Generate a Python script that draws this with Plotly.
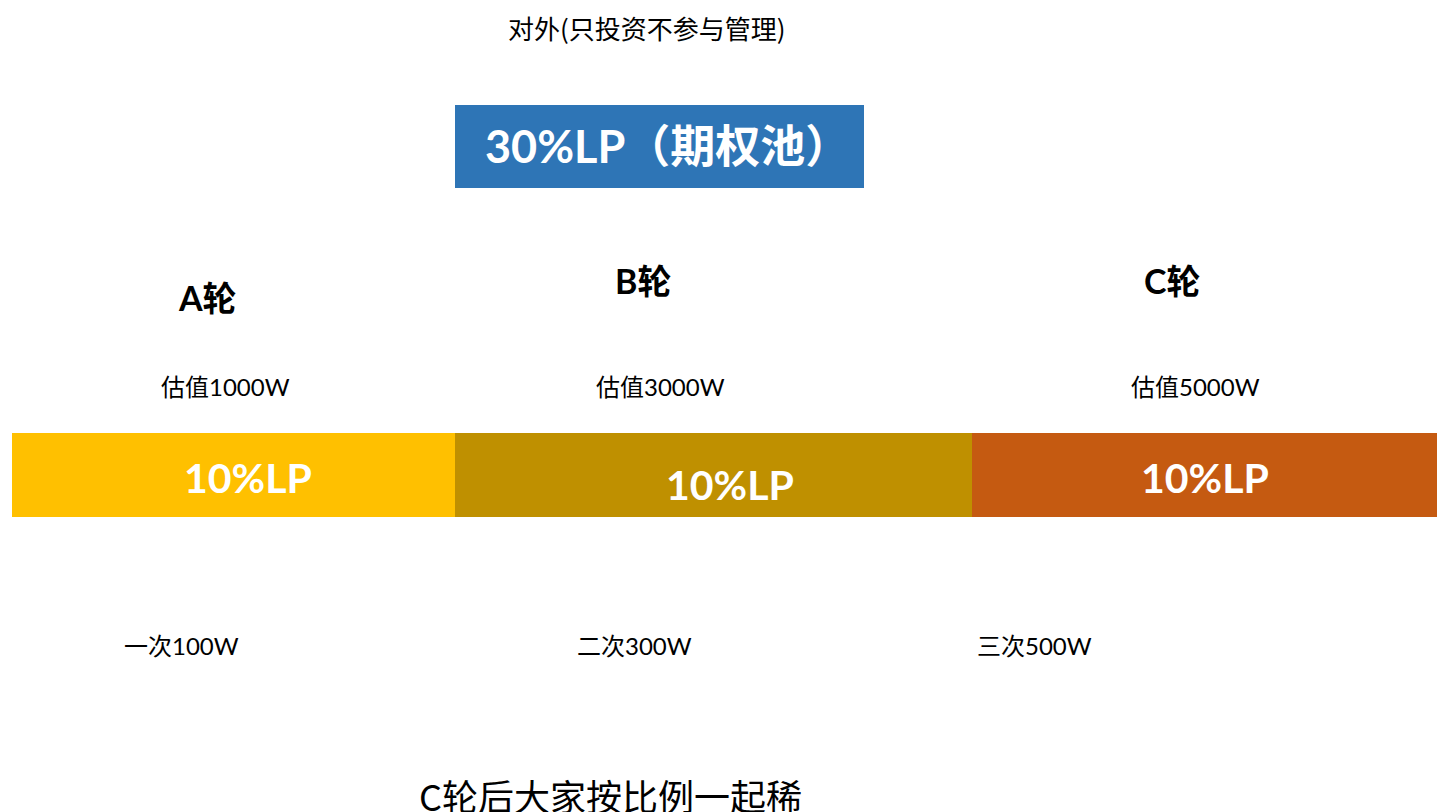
import plotly.graph_objects as go

# ---- data ----
header_text = "对外(只投资不参与管理)"
pool_label = "30%LP（期权池）"
rounds = ["A轮", "B轮", "C轮"]
valuations = ["估值1000W", "估值3000W", "估值5000W"]
lp_labels = ["10%LP", "10%LP", "10%LP"]
investments = ["一次100W", "二次300W", "三次500W"]
footer_text = "C轮后大家按比例一起稀"

# ---- layout / style (pixel coordinates on a 1445x812 canvas) ----
W, H = 1445, 812
OFF = 8  # page body margin compensation
seg_x = [(12, 455), (455, 972), (972, 1445)]
seg_colors = ["#FFC000", "#BF9000", "#C55A11"]
bar_y = (433, 517)
pool_box = (455, 864, 105, 188)
pool_color = "#2E75B6"
round_pos = [(207, 297), (643, 280), (1172, 280)]
val_pos = [(225, 386), (660, 386), (1195, 386)]
lp_pos = [(248, 477), (730, 484), (1205, 477)]
inv_pos = [(181, 645), (634, 645), (1034, 645)]

FONT = "Lato, Noto Sans CJK SC, sans-serif"
CJK = "Noto Sans CJK SC, Lato, sans-serif"

fig = go.Figure()
fig.add_trace(go.Scatter(x=[OFF, W], y=[OFF, H], mode="markers",
                         marker=dict(opacity=0), hoverinfo="skip", showlegend=False))

shapes = []
shapes.append(dict(type="rect", xref="x", yref="y",
                   x0=pool_box[0], x1=pool_box[1], y0=pool_box[2], y1=pool_box[3],
                   fillcolor=pool_color, line=dict(width=0), layer="below"))
for (x0, x1), c in zip(seg_x, seg_colors):
    shapes.append(dict(type="rect", xref="x", yref="y", x0=x0, x1=x1,
                       y0=bar_y[0], y1=bar_y[1], fillcolor=c, line=dict(width=0), layer="below"))

ann = []
def add(text, x, y, size, color="black", bold=False, family=FONT):
    t = f"<b>{text}</b>" if bold else text
    ann.append(dict(text=t, x=x, y=y, xref="x", yref="y", showarrow=False,
                    xanchor="center", yanchor="middle",
                    font=dict(size=size, color=color, family=family)))

add(header_text, 647, 27, 26, family=CJK)
add(pool_label, 667, 146, 45, color="white", bold=True)
for t, (x, y) in zip(rounds, round_pos):
    add(t, x, y, 34, bold=True)
for t, (x, y) in zip(valuations, val_pos):
    add(t, x, y, 24)
for t, (x, y) in zip(lp_labels, lp_pos):
    add(t, x, y, 41, color="white", bold=True)
for t, (x, y) in zip(investments, inv_pos):
    add(t, x, y, 24)
add(footer_text, 610, 795, 36, family=CJK)

fig.update_layout(
    width=W - OFF, height=H - OFF, margin=dict(l=0, r=0, t=0, b=0),
    paper_bgcolor="white", plot_bgcolor="white",
    xaxis=dict(range=[OFF, W], visible=False, fixedrange=True),
    yaxis=dict(range=[H, OFF], visible=False, fixedrange=True),
    shapes=shapes, annotations=ann, showlegend=False,
)
fig.write_html("out.html")
